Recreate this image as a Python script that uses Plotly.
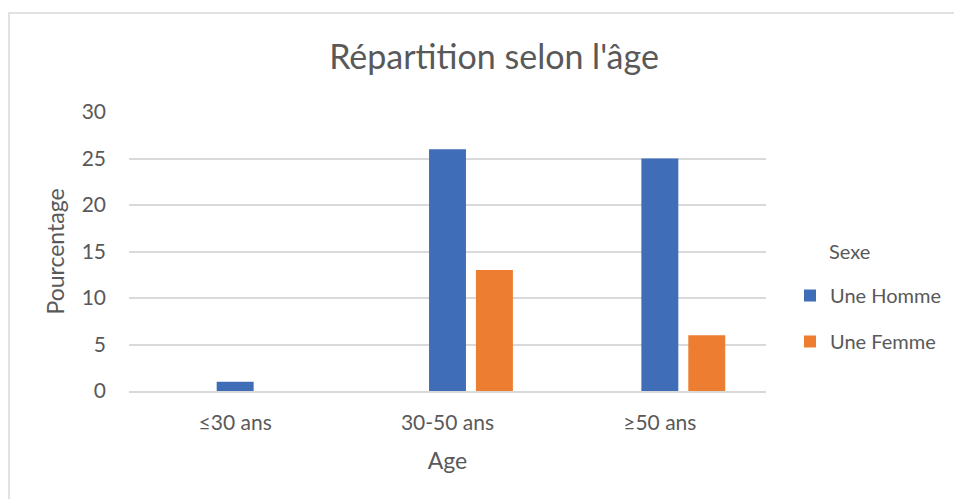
import plotly.graph_objects as go

categories = ["≤30 ans", "30-50 ans", "≥50 ans"]
homme = [1, 26, 25]
femme = [None, 13, 6]
series_names = ["Une Homme", "Une Femme"]
y_ticks = [0, 5, 10, 15, 20, 25, 30]

FONT = "Lato, Open Sans, sans-serif"
GREY = "#595959"

# page body has an 8px margin, so figure coords = screen coords - 8
L, R, T, B = 121, 204, 104, 116
PW, PH = 962 - L - R, 499 - T - B

fig = go.Figure()
fig.add_trace(go.Bar(x=categories, y=homme, name=series_names[0],
                     marker=dict(color="#3F6DB8", line=dict(width=0)),
                     width=0.174, offset=-0.087, legendgroup="a"))
fig.add_trace(go.Bar(x=categories, y=femme, name=series_names[1],
                     marker=dict(color="#ED7D31", line=dict(width=0)),
                     width=0.174, offset=0.134, legendgroup="b"))

fig.update_layout(
    width=962, height=499,
    margin=dict(l=L, r=R, t=T, b=B),
    paper_bgcolor="white", plot_bgcolor="white",
    font=dict(family=FONT, color=GREY, size=20),
    title=dict(text="Répartition selon l'âge", x=486 / 962, xanchor="center",
               y=1 - 49 / 499, yanchor="middle", font=dict(size=34, color=GREY, family=FONT)),
    barmode="group",
    showlegend=True,
    legend=dict(x=(782 - L) / PW, xanchor="left", y=(499 - B - 310.5) / PH, yanchor="middle",
                tracegroupgap=17, font=dict(size=20, color=GREY),
                itemwidth=30, bgcolor="rgba(0,0,0,0)"),
    xaxis=dict(showgrid=False, showline=True, linecolor="#d9d9d9", linewidth=1.5,
               ticks="", tickfont=dict(size=21, color=GREY), ticklabelstandoff=12,
               title=dict(text="Age", font=dict(size=23, color=GREY), standoff=20)),
    yaxis=dict(range=[0, 30], tickvals=y_ticks, showgrid=True, gridcolor="#d9d9d9",
               gridwidth=1.5, zeroline=False, showline=False, ticks="",
               ticklabelstandoff=22,
               tickfont=dict(size=21, color=GREY),
               title=dict(text="Pourcentage", font=dict(size=23, color=GREY), standoff=10)),
    shapes=[dict(type="rect", xref="paper", yref="paper",
                 x0=(1 - L) / PW, x1=1.5, y0=-1, y1=1 + (T - 5) / PH,
                 line=dict(color="#d9d9d9", width=1.5), fillcolor="rgba(0,0,0,0)",
                 layer="below")],
)
fig.add_annotation(text="Sexe", xref="paper", yref="paper",
                   x=(819 - L) / PW, y=(499 - B - 243) / PH, xanchor="left", yanchor="middle",
                   showarrow=False, font=dict(size=20, color=GREY))

fig.write_html("out.html")
